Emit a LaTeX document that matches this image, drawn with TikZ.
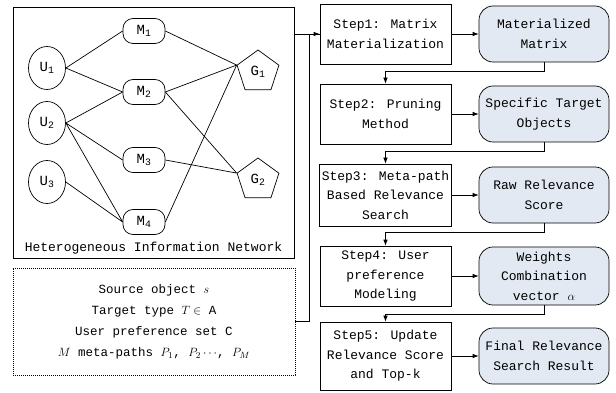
\documentclass[tikz,border=0pt]{standalone}
\usepackage{fontspec}
\setmainfont{Liberation Mono}
\usetikzlibrary{arrows.meta,shapes.geometric}
\definecolor{resblue}{RGB}{226,233,243}

\begin{document}
\begin{tikzpicture}[x=1pt,y=-1pt,>={Latex[length=6pt,width=4.5pt]},line width=0.7pt,
 every node/.style={font=\fontsize{13}{19.5}\selectfont},
 user/.style={ellipse,draw,minimum width=37pt,minimum height=43pt,inner sep=0pt,font=\fontsize{14}{16}\selectfont},
 item/.style={draw,rounded corners=10pt,minimum width=42pt,minimum height=25pt,inner sep=0pt,font=\fontsize{14}{16}\selectfont},
 group/.style={regular polygon,regular polygon sides=5,draw,minimum size=44pt,inner sep=0pt,font=\fontsize{14}{16}\selectfont},
 stepbox/.style={draw,align=center,minimum width=131pt,minimum height=60pt,inner sep=2pt},
 resbox/.style={draw,fill=resblue,rounded corners=14pt,align=center,minimum width=130pt,minimum height=56pt,inner sep=2pt}]
\useasboundingbox (0,0) rectangle (616,393);

% heterogeneous network
\node[draw,minimum width=281pt,minimum height=251pt,inner sep=0pt] (hin) at (153.5,132.5) {};
\node (hinlabel) at (153.5,248) {Heterogeneous Information Network};
\node[user] (U1) at (47,68) {U\textsubscript{1}};
\node[user] (U2) at (47,123) {U\textsubscript{2}};
\node[user] (U3) at (47,182) {U\textsubscript{3}};
\node[item] (M1) at (144,31) {M\textsubscript{1}};
\node[item] (M2) at (144,92) {M\textsubscript{2}};
\node[item] (M3) at (144,160) {M\textsubscript{3}};
\node[item] (M4) at (144,222) {M\textsubscript{4}};
\node[group] (G1) at (258,72) {G\textsubscript{1}};
\node[group] (G2) at (258,180) {G\textsubscript{2}};
\draw (U1.east)--(M1.west) (U1.east)--(M2.west)
 (U2.east)--(M2.west) (U2.east)--(M3.west) (U2.east)--(M4.west)
 (U3.east)--(M4.west);
\draw (M1.east)--(G1.corner 2) (M2.east)--(G1.corner 2) (M4.east)--(G1.corner 2)
 (M2.east)--(G2.corner 2) (M3.east)--(G2.corner 2);

% query input
\node[draw,dash pattern=on 1.2pt off 0.8pt,minimum width=282pt,minimum height=107pt,
 align=center,font=\fontsize{12.5}{21}\selectfont] (input) at (154,321.5)
 {Source object $s$\\ Target type $T\in$ A\\ User preference set C\\
 $M$ meta-paths $P_1$, $P_2\cdots$, $P_M$};

% steps
\node[stepbox] (step1) at (385.5,34) {Step1: Matrix\\Materialization};
\node[stepbox] (step2) at (385.5,114) {Step2: Pruning\\Method};
\node[stepbox,minimum height=62pt] (step3) at (385.5,195) {Step3: Meta-path\\Based Relevance\\Search};
\node[stepbox] (step4) at (385.5,276) {Step4: User\\preference\\Modeling};
\node[stepbox,minimum height=68pt] (step5) at (385.5,356) {Step5: Update\\Relevance Score\\and Top-k};
\node[resbox] (res1) at (544,34) {Materialized\\Matrix};
\node[resbox] (res2) at (544,114) {Specific Target\\Objects};
\node[resbox] (res3) at (544,195) {Raw Relevance\\Score};
\node[resbox,minimum height=58pt] (res4) at (544,276) {Weights\\Combination\\vector $\alpha$};
\node[resbox] (res5) at (544,356) {Final Relevance\\Search Result};

\draw[->] (hin.east |- step1.west)--(step1.west);
\draw (input.east)--++(14,0) |- (step1.west);
\foreach \i in {1,...,5}
 \draw[->] (step\i.east)--(res\i.west);
\foreach \i/\j in {1/2,2/3,3/4,4/5}
 \draw[->] (res\i.south)--++(0,9) -| (step\j.north);
\end{tikzpicture}
\end{document}
